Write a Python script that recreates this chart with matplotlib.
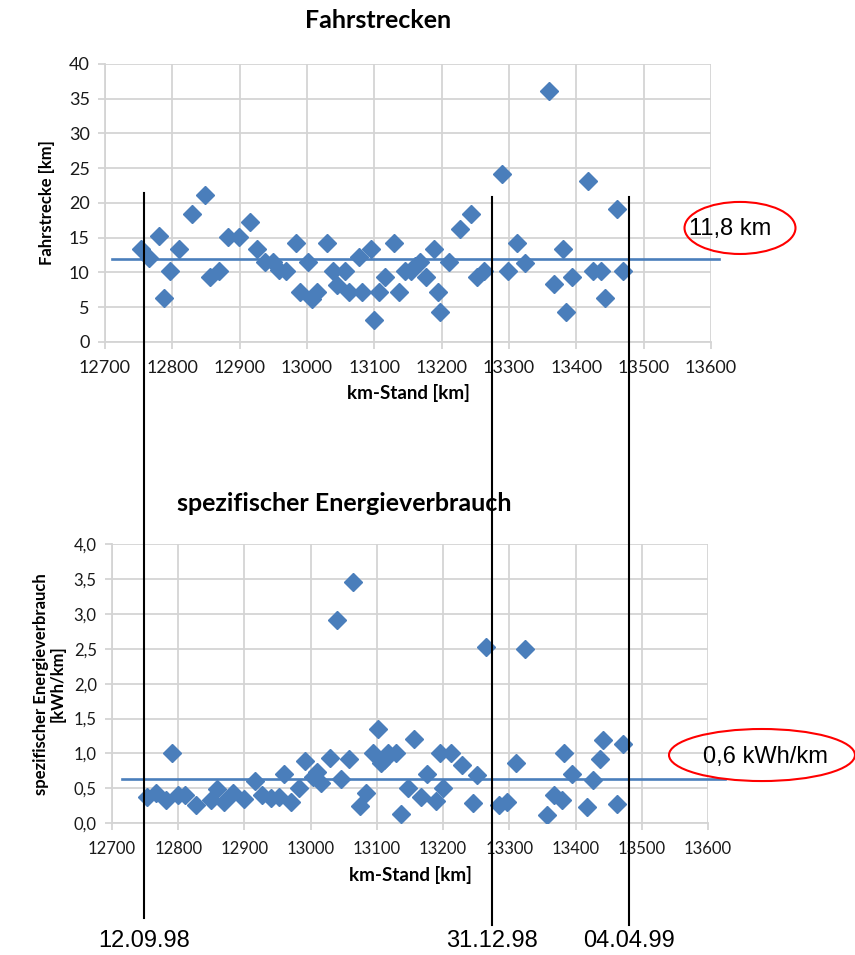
import matplotlib
matplotlib.use("Agg")
import matplotlib.pyplot as plt
from matplotlib.patches import Ellipse
from matplotlib.lines import Line2D
import matplotlib.transforms as mtrans

# Fahrstrecken (top chart): km-Stand vs. Fahrstrecke
km_top = [12753, 12766, 12780, 12788, 12796, 12810, 12829, 12849, 12856, 12870,
          12882, 12899, 12915, 12926, 12937, 12949, 12958, 12969, 12983, 12989,
          13002, 13008, 13015, 13029, 13039, 13045, 13057, 13063, 13077, 13082,
          13095, 13099, 13107, 13116, 13129, 13136, 13145, 13155, 13161, 13168,
          13176, 13188, 13194, 13198, 13211, 13227, 13243, 13252, 13263, 13289,
          13298, 13312, 13324, 13359, 13367, 13380, 13384, 13393, 13417, 13425,
          13436, 13442, 13460, 13470]
strecke = [13.4, 12.1, 15.2, 6.3, 10.2, 13.4, 18.4, 21.2, 9.3, 10.2,
           15.1, 15.1, 17.2, 13.4, 11.5, 11.5, 10.4, 10.2, 14.2, 7.2,
           11.5, 6.2, 7.2, 14.2, 10.2, 8.2, 10.2, 7.2, 12.2, 7.2,
           13.4, 3.1, 7.2, 9.3, 14.2, 7.2, 10.2, 10.2, 10.9, 11.5,
           9.3, 13.4, 7.2, 4.3, 11.5, 16.2, 18.4, 9.3, 10.2, 24.1,
           10.2, 14.2, 11.3, 36.1, 8.3, 13.4, 4.3, 9.3, 23.2, 10.2,
           10.2, 6.3, 19.2, 10.2]

# spezifischer Energieverbrauch (bottom chart)
km_bot = [12753, 12766, 12781, 12790, 12799, 12810, 12827, 12849, 12859, 12869,
          12883, 12899, 12916, 12927, 12940, 12952, 12960, 12970, 12983, 12992,
          13004, 13010, 13016, 13029, 13039, 13046, 13058, 13064, 13075, 13083,
          13094, 13101, 13106, 13110, 13117, 13129, 13137, 13147, 13156, 13166,
          13176, 13189, 13195, 13200, 13212, 13228, 13245, 13251, 13264, 13285,
          13297, 13310, 13323, 13357, 13367, 13380, 13382, 13394, 13417, 13427,
          13437, 13442, 13462, 13471]
verbrauch = [0.38, 0.44, 0.34, 1.01, 0.41, 0.40, 0.26, 0.34, 0.49, 0.30,
             0.43, 0.35, 0.61, 0.40, 0.36, 0.37, 0.70, 0.30, 0.51, 0.89,
             0.67, 0.73, 0.57, 0.94, 2.91, 0.64, 0.92, 3.45, 0.25, 0.44,
             1.01, 1.35, 0.87, 0.91, 1.01, 1.01, 0.14, 0.51, 1.21, 0.37,
             0.70, 0.32, 1.01, 0.51, 1.01, 0.83, 0.29, 0.69, 2.53, 0.26,
             0.30, 0.87, 2.49, 0.12, 0.40, 0.33, 1.01, 0.70, 0.24, 0.62,
             0.92, 1.19, 0.28, 1.13]

mean_top = 12.0
mean_bot = 0.635
mean_top_span = [12710, 13612]
mean_bot_span = [12715, 13626]

x_ticks = [12700, 12800, 12900, 13000, 13100, 13200, 13300, 13400, 13500, 13600]
y_ticks_top = [0, 5, 10, 15, 20, 25, 30, 35, 40]
y_ticks_bot = [0.0, 0.5, 1.0, 1.5, 2.0, 2.5, 3.0, 3.5, 4.0]
y_labels_bot = ['0,0', '0,5', '1,0', '1,5', '2,0', '2,5', '3,0', '3,5', '4,0']

dates = ['12.09.98', '31.12.98', '04.04.99']
date_km = [12758, 13275, 13478]

blue = '#4a7ebb'
grid_c = '#d4d4d4'
plt.rcParams['font.family'] = ['Lato', 'DejaVu Sans']

fig = plt.figure(figsize=(8.55, 9.55), dpi=100)
ax1 = fig.add_axes([0.1228, 0.6419, 0.7088, 0.2911])
ax2 = fig.add_axes([0.1310, 0.1379, 0.6971, 0.2925])


def style(ax, yt, ylabels, fs):
    ax.set_xlim(12700, 13600)
    ax.set_xticks(x_ticks)
    ax.set_yticks(yt)
    if ylabels is not None:
        ax.set_yticklabels(ylabels)
    ax.set_ylim(yt[0], yt[-1])
    ax.grid(True, color=grid_c, linewidth=1.3)
    ax.set_axisbelow(True)
    for s in ['top', 'right']:
        ax.spines[s].set_visible(False)
    for s in ['left', 'bottom']:
        ax.spines[s].set_color(grid_c)
        ax.spines[s].set_linewidth(1.3)
    ax.tick_params(length=5, color=grid_c, width=1.3, labelsize=fs, labelcolor='#1a1a1a')
    ax.tick_params(axis='x', pad=8)
    ax.tick_params(axis='y', pad=6)


style(ax1, y_ticks_top, None, 13)
style(ax2, y_ticks_bot, y_labels_bot, 12)

ax1.plot(km_top, strecke, linestyle='none', marker='D', ms=9.5, color=blue, zorder=3)
ax1.plot(mean_top_span, [mean_top, mean_top], color=blue, lw=1.9, clip_on=False, zorder=2)
ax2.plot(km_bot, verbrauch, linestyle='none', marker='D', ms=9.5, color=blue, zorder=3)
ax2.plot(mean_bot_span, [mean_bot, mean_bot], color=blue, lw=1.9, clip_on=False, zorder=2)

ax1.set_title('Fahrstrecken', fontsize=18, fontweight='bold', pad=26, x=0.45)
ax2.set_title('spezifischer Energieverbrauch', fontsize=18, fontweight='bold', pad=24, x=0.39)
ax1.set_xlabel('km-Stand [km]', fontsize=13.5, fontweight='bold', labelpad=6, x=0.5)
ax2.set_xlabel('km-Stand [km]', fontsize=13.5, fontweight='bold', labelpad=6, x=0.5)
ax1.set_ylabel('Fahrstrecke [km]', fontsize=12, fontweight='bold', labelpad=10)
ax2.set_ylabel('spezifischer Energieverbrauch\n[kWh/km]', fontsize=12,
               fontweight='bold', labelpad=6, linespacing=1.05)

# vertical date markers across both charts
tr = mtrans.blended_transform_factory(ax1.transData, fig.transFigure)
tops = [1 - 193 / 955, 1 - 197 / 955, 1 - 197 / 955]
bots = [1 - 918 / 955, 1 - 925 / 955, 1 - 925 / 955]
for k, d, t, b in zip(date_km, dates, tops, bots):
    fig.add_artist(Line2D([k, k], [t, b], transform=tr, color='black', lw=1.5))
    fig.text(k, 1 - 941 / 955, d, transform=tr, ha='center', va='center',
             fontsize=17, family=['Liberation Sans Narrow', 'Liberation Sans'])

# annotations with red ellipses
fig.add_artist(Ellipse((0.8655, 0.7613), 0.1298, 0.0545, transform=fig.transFigure,
                       fill=False, edgecolor='red', lw=1.5))
fig.text(0.806, 0.7602, '11,8 km', ha='left', va='center', fontsize=17,
         family=['Liberation Sans'])
fig.add_artist(Ellipse((0.8912, 0.2094), 0.2175, 0.0545, transform=fig.transFigure,
                       fill=False, edgecolor='red', lw=1.5))
fig.text(0.822, 0.2073, '0,6 kWh/km', ha='left', va='center', fontsize=17,
         family=['Liberation Sans'])

fig.savefig('out.png', dpi=100)
